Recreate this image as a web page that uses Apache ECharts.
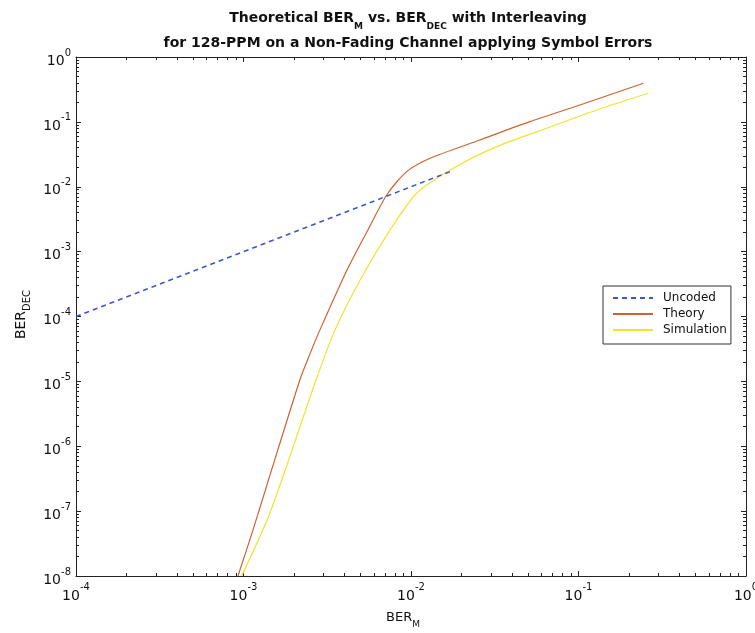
<!DOCTYPE html>
<html><head><meta charset="utf-8">
<script src="https://cdn.jsdelivr.net/npm/echarts@6/dist/echarts.min.js"></script>
<style>html,body{margin:0;padding:0;background:#fff}#c{width:755px;height:633px}</style>
</head><body><div id="c"></div>
<script>
// ---- data ----
const uncodedX = [1e-4, 1e-3, 1e-2, 1.8e-2];
const uncodedY = [1e-4, 1e-3, 1e-2, 1.8e-2];
const theoryX = [9.27e-4, 1.14e-3, 1.41e-3, 2.17e-3, 2.48e-3, 2.86e-3, 4.15e-3, 5.53e-3, 7.19e-3, 9.42e-3, 1.30e-2, 2.58e-2, 5.13e-2, 0.102, 0.244];
const theoryY = [1e-8, 5.15e-8, 3.03e-7, 1.05e-5, 2.56e-5, 6.22e-5, 5.22e-4, 2.16e-3, 7.6e-3, 1.71e-2, 2.75e-2, 5.26e-2, 0.1007, 0.182, 0.394];
const simX = [9.75e-4, 1.44e-3, 2.71e-3, 3.52e-3, 4.97e-3, 7.50e-3, 1.08e-2, 1.79e-2, 3.25e-2, 6.46e-2, 0.1285, 0.261];
const simY = [1e-8, 9.42e-8, 1.05e-5, 6.22e-5, 3.66e-4, 2.16e-3, 7.94e-3, 1.93e-2, 4.15e-2, 7.97e-2, 0.1526, 0.276];
const xTickExp = [-4, -3, -2, -1, 0];
const yTickExp = [-8, -7, -6, -5, -4, -3, -2, -1, 0];
const seriesNames = ['Uncoded', 'Theory', 'Simulation'];
const titleLine1 = ['Theoretical BER', 'M', ' vs. BER', 'DEC', ' with Interleaving'];
const titleLine2 = 'for 128-PPM on a Non-Fading Channel applying Symbol Errors';

// ---- helpers ----
const FONT = "'DejaVu Sans', 'Liberation Sans', Arial, sans-serif";
const zip = (a, b) => a.map((v, i) => [v, b[i]]);
const majors = exps => exps.map(e => Math.pow(10, e));
const minors = exps => {
  const out = [];
  for (let i = 0; i < exps.length - 1; i++)
    for (let m = 2; m <= 9; m++) out.push(m * Math.pow(10, exps[i]));
  return out;
};
const tickRich = supPad => ({
  b: { fontFamily: FONT, fontSize: 14, lineHeight: 22, verticalAlign: 'bottom', color: '#111' },
  s: { fontFamily: FONT, fontSize: 10, lineHeight: 12, verticalAlign: 'top', padding: [supPad, 0, 0, 0], color: '#111' }
});
const nameRich = (fs, ss) => ({
  b: { fontFamily: FONT, fontSize: fs, lineHeight: 22, verticalAlign: 'middle', color: '#111' },
  s: { fontFamily: FONT, fontSize: ss, lineHeight: 10, verticalAlign: 'bottom', color: '#111' }
});
const fmt = v => '{b|10}{s|' + Math.round(Math.log10(v)) + '}';
const lineStyleAxis = { color: '#222', width: 1 };

function makeAxes(isX, exps, minV, maxV) {
  const base = { type: 'log', logBase: 10, min: minV, max: maxV, gridIndex: 0, splitLine: { show: false } };
  const pos = isX ? ['bottom', 'top'] : ['left', 'right'];
  const axes = [];
  axes.push(Object.assign({}, base, {
    position: pos[0],
    axisLine: { show: true, lineStyle: lineStyleAxis },
    axisTick: { show: true, inside: true, length: 5, lineStyle: lineStyleAxis, customValues: majors(exps) },
    axisLabel: { show: true, customValues: majors(exps), formatter: fmt, rich: tickRich(isX ? 1 : 2), margin: 5 },
    name: isX ? '{b|BER}{s|M}' : '{b|BER}{s|DEC}',
    nameLocation: 'middle',
    nameGap: isX ? 31 : 44,
    nameRotate: isX ? 0 : 90,
    nameTextStyle: isX ? { rich: nameRich(13, 9), padding: [0, 16, 0, 0] } : { rich: nameRich(14, 10), padding: [0, 0, 0, 4] }
  }));
  axes.push(Object.assign({}, base, {
    position: pos[0],
    axisLine: { show: false },
    axisTick: { show: true, inside: true, length: 3, lineStyle: lineStyleAxis, customValues: minors(exps) },
    axisLabel: { show: false }
  }));
  axes.push(Object.assign({}, base, {
    position: pos[1],
    axisLine: { show: true, lineStyle: lineStyleAxis },
    axisTick: { show: true, inside: true, length: 5, lineStyle: lineStyleAxis, customValues: majors(exps) },
    axisLabel: { show: false }
  }));
  axes.push(Object.assign({}, base, {
    position: pos[1],
    axisLine: { show: false },
    axisTick: { show: true, inside: true, length: 3, lineStyle: lineStyleAxis, customValues: minors(exps) },
    axisLabel: { show: false }
  }));
  return axes;
}

const chart = echarts.init(document.getElementById('c'), null, { renderer: 'canvas' });
const option = {
  backgroundColor: '#fff',
  animation: false,
  title: {
    left: 408, top: 6, textAlign: 'center', padding: 0,
    text: '{b|' + titleLine1[0] + '}{s|' + titleLine1[1] + '}{b|' + titleLine1[2] + '}{s|' + titleLine1[3] + '}{b|' + titleLine1[4] + '}\n{b|' + titleLine2 + '}',
    textStyle: {
      rich: {
        b: { fontFamily: FONT, fontSize: 14, fontWeight: 'bold', lineHeight: 25, verticalAlign: 'middle', color: '#111' },
        s: { fontFamily: FONT, fontSize: 9, fontWeight: 'bold', lineHeight: 8, verticalAlign: 'bottom', color: '#111' }
      }
    }
  },
  grid: { left: 76, right: 9, top: 57, bottom: 57, containLabel: false, outerBoundsMode: 'none' },
  xAxis: makeAxes(true, xTickExp, 1e-4, 1),
  yAxis: makeAxes(false, yTickExp, 1e-8, 1),
  legend: {
    orient: 'vertical', left: 603, top: 286,
    data: seriesNames,
    itemWidth: 40, itemHeight: 14, itemGap: 4,
    padding: [6, 4, 8, 9],
    borderColor: '#333', borderWidth: 1, backgroundColor: '#fff',
    itemStyle: { opacity: 0 },
    textStyle: { fontFamily: FONT, fontSize: 12, color: '#111', padding: [0, 0, 0, 5] }
  },
  series: [
    { name: seriesNames[0], type: 'line', xAxisIndex: 0, yAxisIndex: 0, showSymbol: false, symbol: 'none',
      data: zip(uncodedX, uncodedY), lineStyle: { color: '#3a56cf', width: 1.5, type: [5, 4] }, itemStyle: { color: '#3a56cf' }, z: 3 },
    { name: seriesNames[1], type: 'line', xAxisIndex: 0, yAxisIndex: 0, showSymbol: false, symbol: 'none', smooth: 0.25,
      data: zip(theoryX, theoryY), lineStyle: { color: '#d0622f', width: 1.2 }, itemStyle: { color: '#d0622f' }, z: 2 },
    { name: seriesNames[2], type: 'line', xAxisIndex: 0, yAxisIndex: 0, showSymbol: false, symbol: 'none', smooth: 0.25,
      data: zip(simX, simY), lineStyle: { color: '#f2e22e', width: 1.2 }, itemStyle: { color: '#f2e22e' }, z: 2 }
  ]
};
chart.setOption(option);
</script>
</body></html>
